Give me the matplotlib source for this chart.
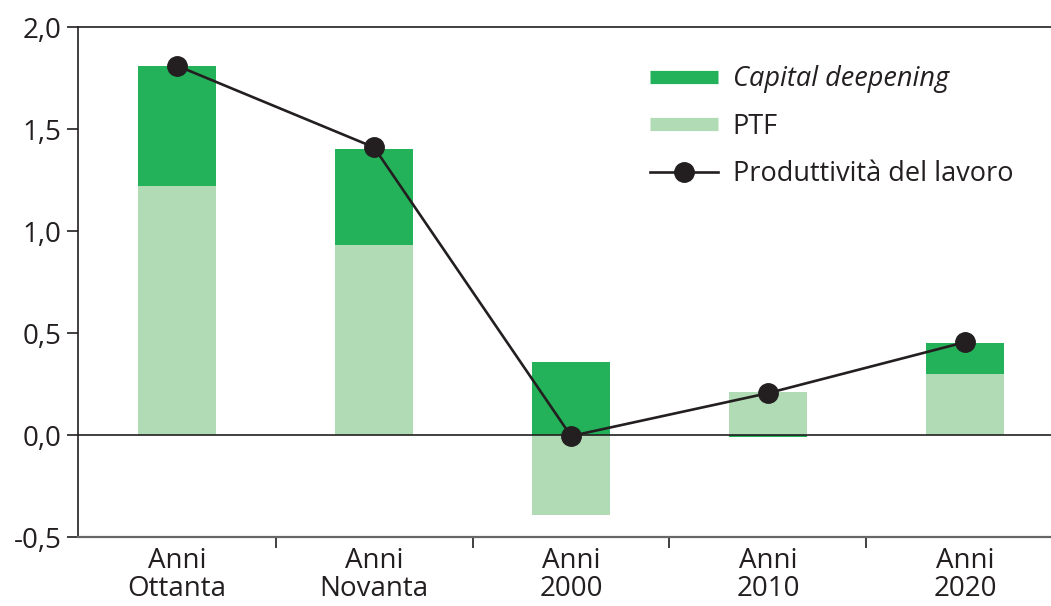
import matplotlib
matplotlib.use("Agg")
import matplotlib.pyplot as plt
from matplotlib.lines import Line2D
import numpy as np

categories = ["Anni\nOttanta", "Anni\nNovanta", "Anni\n2000", "Anni\n2010", "Anni\n2020"]
ptf = [1.22, 0.93, -0.39, 0.21, 0.30]
capital_deepening = [0.59, 0.47, 0.36, -0.01, 0.15]
produttivita = [1.81, 1.41, -0.005, 0.205, 0.455]
yticks = [-0.5, 0.0, 0.5, 1.0, 1.5, 2.0]
ytick_labels = ["-0,5", "0,0", "0,5", "1,0", "1,5", "2,0"]

DARK = "#23b25a"
LIGHT = "#b0dbb5"
INK = "#231f20"

plt.rcParams["font.family"] = ["Open Sans", "DejaVu Sans"]

fig = plt.figure(figsize=(10.51, 6.06), dpi=100)
ax = fig.add_axes([78 / 1051, 1 - 537 / 606, 1 - 78 / 1051, (537 - 27) / 606])

x = np.arange(len(categories))
w = 0.4
ptf_a = np.array(ptf)
cd_a = np.array(capital_deepening)
pos_base = np.where(ptf_a > 0, ptf_a, 0)
neg_base = np.where(ptf_a < 0, ptf_a, 0)
cd_bottom = np.where(cd_a >= 0, pos_base, neg_base)

ax.bar(x, ptf_a, width=w, color=LIGHT, zorder=2)
ax.bar(x, cd_a, width=w, bottom=cd_bottom, color=DARK, zorder=2)
ax.axhline(0, color=INK, lw=1.2, zorder=3)
ax.plot(x, produttivita, color=INK, lw=1.9, marker="o", markersize=14,
        markerfacecolor=INK, markeredgecolor=INK, zorder=4)

ax.set_xlim(-0.503, 4.437)
ax.set_ylim(-0.5, 2.0)
ax.set_yticks(yticks)
ax.set_yticklabels(ytick_labels)
ax.set_xticks(x)
ax.set_xticklabels(categories, linespacing=1.0)
ax.set_xticks(np.arange(0.5, len(categories) - 0.5, 1), minor=True)
ax.tick_params(axis="x", which="major", length=0, pad=7, labelsize=20, colors=INK)
ax.tick_params(axis="x", which="minor", length=8, width=1.2, color=INK, direction="out")
ax.tick_params(axis="y", length=8, width=1.2, color=INK, pad=4, labelsize=20, labelcolor=INK)

ax.spines["right"].set_visible(False)
ax.spines["top"].set_color(INK)
ax.spines["top"].set_linewidth(1.2)
ax.spines["left"].set_color(INK)
ax.spines["left"].set_linewidth(1.2)
ax.spines["bottom"].set_color("#666666")
ax.spines["bottom"].set_linewidth(1.6)

handles = [
    Line2D([0], [0], color=DARK, lw=9.5, solid_capstyle="butt"),
    Line2D([0], [0], color=LIGHT, lw=9.5, solid_capstyle="butt"),
    Line2D([0], [0], color=INK, lw=1.9, marker="o", markersize=14),
]
labels = ["Capital deepening", "PTF", "Produttività del lavoro"]
leg = ax.legend(handles, labels, loc="upper left", bbox_to_anchor=(0.588, 0.925),
                frameon=False, fontsize=19.5, handlelength=2.5, handletextpad=0.55,
                labelspacing=0.72, borderpad=0, borderaxespad=0)
leg.get_texts()[0].set_fontstyle("italic")
for t in leg.get_texts():
    t.set_color(INK)

fig.savefig("out.png", dpi=100)
